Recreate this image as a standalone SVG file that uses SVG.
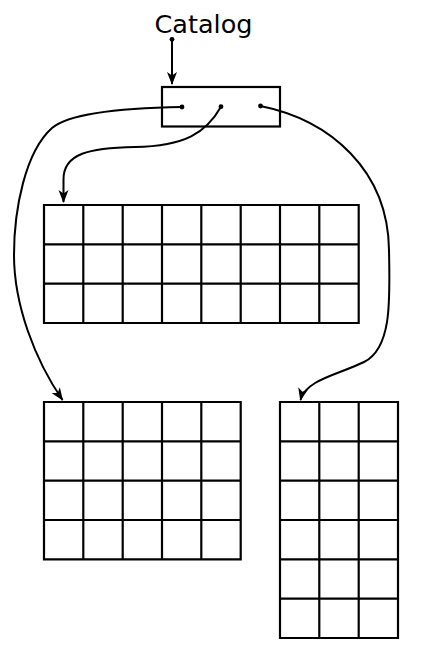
<svg xmlns="http://www.w3.org/2000/svg" width="424" height="656" viewBox="0 0 424 656">
<style>
.grid{fill:none;stroke:#000;stroke-width:2.2}
.conn{fill:none;stroke:#000;stroke-width:2}
.dot{fill:#000}
.lbl{font-family:"DejaVu Sans",sans-serif;font-size:25.5px;fill:#000}
</style>
<defs>
<marker id="arr" markerUnits="userSpaceOnUse" markerWidth="20" markerHeight="20" refX="0" refY="0" orient="auto" overflow="visible">
<path d="M1,0 L-12,-5 L-8.5,0 L-12,5 Z" fill="#000"/>
</marker>
</defs>
<rect width="424" height="656" fill="#fff"/>
<g id="catalog">
<text class="lbl" x="203.5" y="33" text-anchor="middle">Catalog</text>
</g>
<g id="catalog-box">
<rect x="162" y="87" width="118" height="39.5" fill="#fff" stroke="#000" stroke-width="2.2"/>
<circle class="dot" cx="182" cy="107" r="2.4"/>
<circle class="dot" cx="221" cy="106.7" r="2.4"/>
<circle class="dot" cx="260.5" cy="106" r="2.4"/>
</g>
<g id="table1">
<path class="grid" d="M44,205H358.7V323H44Z M44,244.3H358.7 M44,283.7H358.7 M83.3,205V323 M122.7,205V323 M162,205V323 M201.3,205V323 M240.7,205V323 M280,205V323 M319.3,205V323"/>
</g>
<g id="table2">
<path class="grid" d="M44,402H240.7V559.3H44Z M44,441.3H240.7 M44,480.7H240.7 M44,520H240.7 M83.3,402V559.3 M122.7,402V559.3 M162,402V559.3 M201.3,402V559.3"/>
</g>
<g id="table3">
<path class="grid" d="M280,402H398V638H280Z M280,441.3H398 M280,480.7H398 M280,520H398 M280,559.3H398 M280,598.7H398 M319.3,402V638 M358.7,402V638"/>
</g>
<g id="connectors">
<circle class="dot" cx="172" cy="39.3" r="2.4"/>
<path class="conn" d="M172,39.3 L172,84" marker-end="url(#arr)"/>
<path class="conn" d="M182,107 C120,108 70,113 52,128 C25,152 14,210 14,255 C14,305 35,360 62.5,400" marker-end="url(#arr)"/>
<path class="conn" d="M221,106.7 C206,133 185,146 135,147 C90,148 63,153 63.5,180 L63.5,202" marker-end="url(#arr)"/>
<path class="conn" d="M260.5,106 C330,120 388,170 389,250 C390,300 392,348 364,362 C340,374 305,380 300.5,400" marker-end="url(#arr)"/>
</g>
</svg>
